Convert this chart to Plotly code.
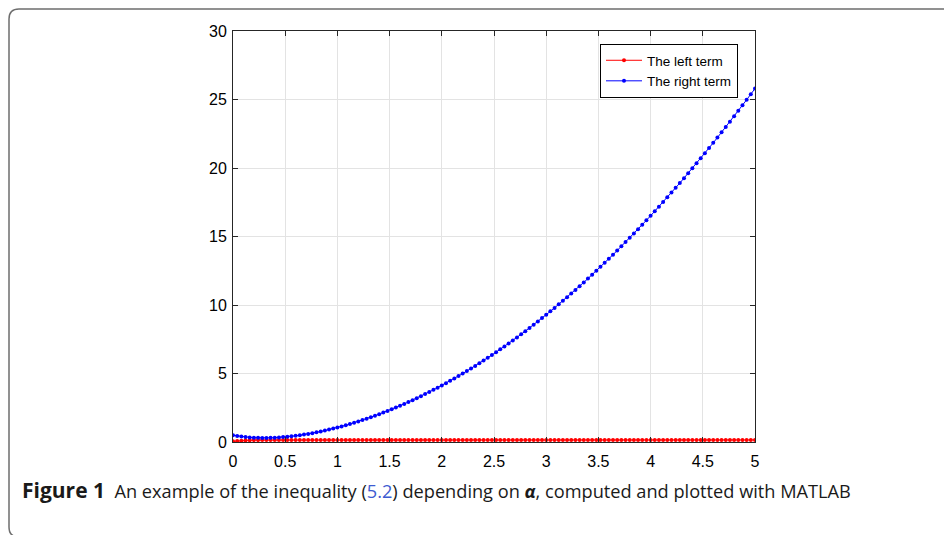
import plotly.graph_objects as go

alpha = [0.00, 0.04, 0.08, 0.12, 0.16, 0.20, 0.24, 0.28, 0.32, 0.36,
         0.40, 0.44, 0.48, 0.52, 0.56, 0.60, 0.64, 0.68, 0.72, 0.76,
         0.80, 0.84, 0.88, 0.92, 0.96, 1.00, 1.04, 1.08, 1.12, 1.16,
         1.20, 1.24, 1.28, 1.32, 1.36, 1.40, 1.44, 1.48, 1.52, 1.56,
         1.60, 1.64, 1.68, 1.72, 1.76, 1.80, 1.84, 1.88, 1.92, 1.96,
         2.00, 2.04, 2.08, 2.12, 2.16, 2.20, 2.24, 2.28, 2.32, 2.36,
         2.40, 2.44, 2.48, 2.52, 2.56, 2.60, 2.64, 2.68, 2.72, 2.76,
         2.80, 2.84, 2.88, 2.92, 2.96, 3.00, 3.04, 3.08, 3.12, 3.16,
         3.20, 3.24, 3.28, 3.32, 3.36, 3.40, 3.44, 3.48, 3.52, 3.56,
         3.60, 3.64, 3.68, 3.72, 3.76, 3.80, 3.84, 3.88, 3.92, 3.96,
         4.00, 4.04, 4.08, 4.12, 4.16, 4.20, 4.24, 4.28, 4.32, 4.36,
         4.40, 4.44, 4.48, 4.52, 4.56, 4.60, 4.64, 4.68, 4.72, 4.76,
         4.80, 4.84, 4.88, 4.92, 4.96, 5.00]

right_term = [0.500, 0.445, 0.400, 0.364, 0.336, 0.316, 0.303, 0.297, 0.297, 0.304,
              0.316, 0.333, 0.356, 0.384, 0.417, 0.454, 0.496, 0.542, 0.593, 0.647,
              0.705, 0.768, 0.835, 0.905, 0.979, 1.057, 1.138, 1.224, 1.312, 1.404,
              1.500, 1.599, 1.702, 1.808, 1.917, 2.030, 2.147, 2.266, 2.389, 2.516,
              2.646, 2.780, 2.916, 3.056, 3.199, 3.346, 3.496, 3.650, 3.806, 3.966,
              4.129, 4.295, 4.465, 4.638, 4.815, 4.995, 5.178, 5.365, 5.555, 5.748,
              5.944, 6.144, 6.347, 6.554, 6.763, 6.976, 7.193, 7.412, 7.635, 7.861,
              8.091, 8.324, 8.560, 8.799, 9.042, 9.288, 9.537, 9.790, 10.046, 10.305,
              10.568, 10.834, 11.103, 11.375, 11.651, 11.930, 12.212, 12.498, 12.787, 13.079,
              13.375, 13.674, 13.976, 14.281, 14.590, 14.902, 15.218, 15.536, 15.858, 16.183,
              16.512, 16.844, 17.179, 17.518, 17.859, 18.204, 18.553, 18.905, 19.260, 19.618,
              19.980, 20.344, 20.713, 21.084, 21.459, 21.837, 22.219, 22.603, 22.991, 23.383,
              23.777, 24.175, 24.576, 24.981, 25.389, 25.800]

left_term = [0.05, 0.08, 0.10, 0.12, 0.13, 0.14, 0.14, 0.15, 0.15, 0.15,
             0.15, 0.15, 0.15, 0.15, 0.15, 0.15, 0.15, 0.15, 0.15, 0.15,
             0.15, 0.15, 0.15, 0.15, 0.15, 0.15, 0.15, 0.15, 0.15, 0.15,
             0.15, 0.15, 0.15, 0.15, 0.15, 0.15, 0.15, 0.15, 0.15, 0.15,
             0.15, 0.15, 0.15, 0.15, 0.15, 0.15, 0.15, 0.15, 0.15, 0.15,
             0.15, 0.15, 0.15, 0.15, 0.15, 0.15, 0.15, 0.15, 0.15, 0.15,
             0.15, 0.15, 0.15, 0.15, 0.15, 0.15, 0.15, 0.15, 0.15, 0.15,
             0.15, 0.15, 0.15, 0.15, 0.15, 0.15, 0.15, 0.15, 0.15, 0.15,
             0.15, 0.15, 0.15, 0.15, 0.15, 0.15, 0.15, 0.15, 0.15, 0.15,
             0.15, 0.15, 0.15, 0.15, 0.15, 0.15, 0.15, 0.15, 0.15, 0.15,
             0.15, 0.15, 0.15, 0.15, 0.15, 0.15, 0.15, 0.15, 0.15, 0.15,
             0.15, 0.15, 0.15, 0.15, 0.15, 0.15, 0.15, 0.15, 0.15, 0.15,
             0.15, 0.15, 0.15, 0.15, 0.15, 0.15]

x_ticks = [0, 0.5, 1, 1.5, 2, 2.5, 3, 3.5, 4, 4.5, 5]
x_tick_labels = ["0", "0.5", "1", "1.5", "2", "2.5", "3", "3.5", "4", "4.5", "5"]
y_ticks = [0, 5, 10, 15, 20, 25, 30]
y_tick_labels = ["0", "5", "10", "15", "20", "25", "30"]

series_names = ["The left term", "The right term"]
caption = ("<b><span style='font-size:21px'>Figure 1</span></b>  An example of the inequality "
           "(<span style='color:#3d5bd1'>5.2</span>) "
           "depending on <b><i>α</i></b>, computed and plotted with MATLAB")

fig = go.Figure()
fig.add_trace(go.Scatter(x=alpha, y=left_term, name=series_names[0], mode="lines+markers",
                         line=dict(color="#ff0000", width=1),
                         marker=dict(color="#ff0000", size=4)))
fig.add_trace(go.Scatter(x=alpha, y=right_term, name=series_names[1], mode="lines+markers",
                         line=dict(color="#0000ff", width=1),
                         marker=dict(color="#0000ff", size=4)))

# the page body adds an 8px offset; work in window pixels and subtract it
OFF = 8
FW, FH = 952 - OFF, 535 - OFF
L, R, T, B = 233 - OFF, 755 - OFF, 31 - OFF, 442 - OFF
W, H = R - L, B - T


def px(xp):
    return (xp - OFF - L) / W


def py(yp):
    return (B - (yp - OFF)) / H


# frame: as close to the window corner as the figure allows
fx0, fy0, fy1 = 9, 9, 537
r = 10
path = (f"M {px(965)},{py(fy0)} L {px(fx0 + r)},{py(fy0)} "
        f"Q {px(fx0)},{py(fy0)} {px(fx0)},{py(fy0 + r)} "
        f"L {px(fx0)},{py(fy1 - r)} Q {px(fx0)},{py(fy1)} {px(fx0 + r)},{py(fy1)} "
        f"L {px(965)},{py(fy1)}")

axis_common = dict(showgrid=True, gridcolor="#e3e3e3", gridwidth=1,
                   showline=True, linecolor="#262626", linewidth=1, mirror="ticks",
                   ticks="inside", ticklen=5, tickcolor="#262626", zeroline=False,
                   tickfont=dict(family="Liberation Sans, Arial, sans-serif", size=16, color="#000000"))

fig.update_layout(
    width=FW, height=FH,
    margin=dict(l=L, r=FW - R, t=T, b=FH - B, pad=0),
    paper_bgcolor="white", plot_bgcolor="white",
    xaxis=dict(range=[0, 5], tickvals=x_ticks, ticktext=x_tick_labels,
               ticklabelstandoff=5, **axis_common),
    yaxis=dict(range=[0, 30], tickvals=y_ticks, ticktext=y_tick_labels,
               ticklabelstandoff=2, **axis_common),
    legend=dict(x=px(600), y=py(44), xanchor="left", yanchor="top",
                bgcolor="white", bordercolor="#000000", borderwidth=1,
                font=dict(family="Liberation Sans, Arial, sans-serif", size=13.5, color="#000000"),
                tracegroupgap=0, itemwidth=36),
    showlegend=True,
    shapes=[dict(type="path", path=path, xref="paper", yref="paper",
                 line=dict(color="#6e6e6e", width=1.5), layer="above")],
    annotations=[dict(text=caption, x=px(20), y=py(490), xref="paper", yref="paper",
                      xanchor="left", yanchor="middle", showarrow=False,
                      font=dict(family="Open Sans, Noto Sans, sans-serif", size=18.2, color="#1a1a1a"))],
)

fig.write_html("out.html")
